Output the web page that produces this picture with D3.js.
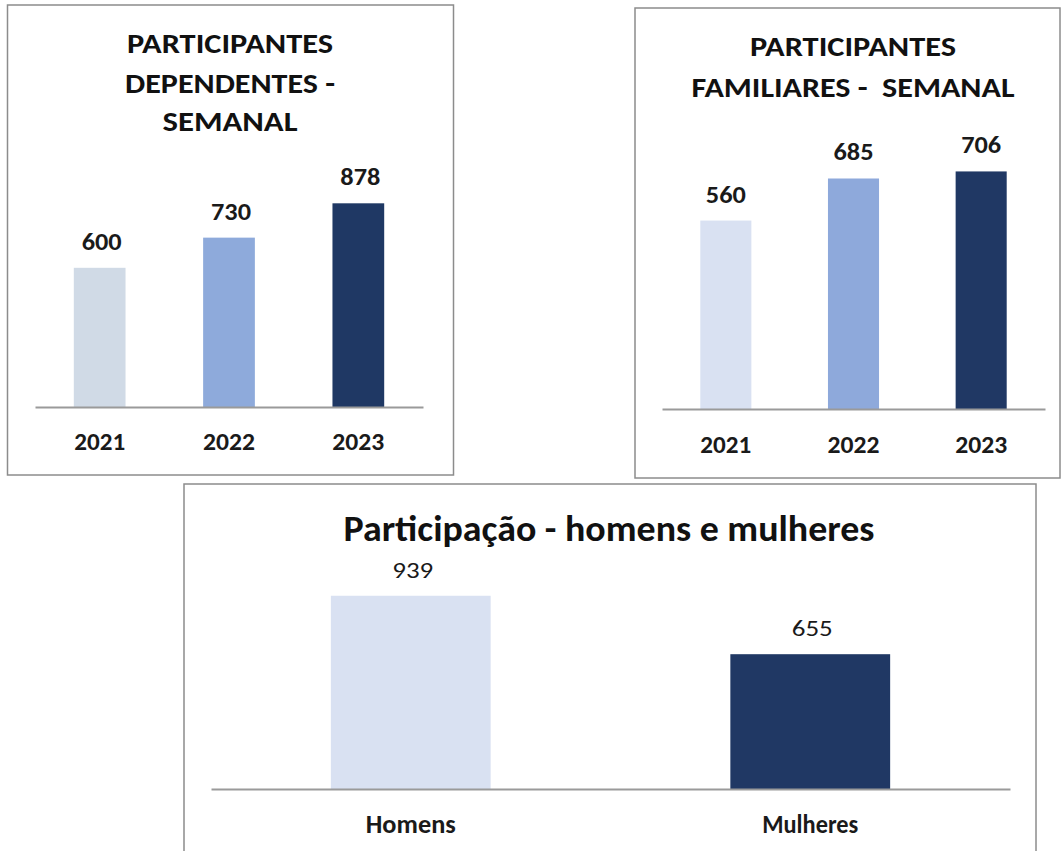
<!DOCTYPE html>
<html>
<head>
<meta charset="utf-8">
<script src="https://cdn.jsdelivr.net/npm/d3@7"></script>
<style>
  body { margin: 0; background: #fff; }
  svg { display: block; }
</style>
</head>
<body>
<div id="chart"></div>
<script>
// data
var dependentesYears = ["2021", "2022", "2023"];
var dependentesValues = [600, 730, 878];
var dependentesColors = ["#D0DAE6", "#8EAADB", "#1F3864"];

var familiaresYears = ["2021", "2022", "2023"];
var familiaresValues = [560, 685, 706];
var familiaresColors = ["#D9E1F2", "#8EA9DB", "#203864"];

var generoCats = ["Homens", "Mulheres"];
var generoValues = [939, 655];
var generoColors = ["#D9E1F2", "#203864"];

var width = 1063;
var height = 851;
var font = "Carlito, 'Open Sans', sans-serif";

var svg = d3.select("#chart").append("svg")
  .attr("width", width)
  .attr("height", height);

svg.append("rect")
  .attr("width", "100%")
  .attr("height", "100%")
  .attr("fill", "#ffffff");

function drawPanel(p) {
  var g = svg.append("g");

  // frame
  g.append("rect")
    .attr("x", p.box[0]).attr("y", p.box[1])
    .attr("width", p.box[2]).attr("height", p.box[3])
    .attr("fill", "#fff")
    .attr("stroke", "#8c8c8c")
    .attr("stroke-width", 1.5);

  var x = d3.scaleBand()
    .domain(p.cats)
    .range(p.xRange)
    .paddingInner(0.6)
    .paddingOuter(0.3);

  var y = d3.scaleLinear()
    .domain(p.yDomain)
    .range(p.yRange);

  // titles
  p.title.forEach(function (t) {
    g.append("text")
      .attr("x", p.titleX)
      .attr("y", t.y)
      .attr("text-anchor", "middle")
      .attr("font-family", font)
      .attr("font-weight", "bold")
      .attr("font-size", p.titleSize)
      .attr("textLength", t.w)
      .attr("lengthAdjust", "spacingAndGlyphs")
      .attr("fill", "#111")
      .style("white-space", "pre")
      .text(t.text);
  });

  // bars
  g.selectAll(".bar")
    .data(p.values)
    .enter().append("rect")
    .attr("x", function (d, i) { return x(p.cats[i]); })
    .attr("y", function (d) { return y(d); })
    .attr("width", x.bandwidth())
    .attr("height", function (d) { return y(0) - y(d); })
    .attr("fill", function (d, i) { return p.colors[i]; });

  // value labels
  g.selectAll(".val")
    .data(p.values)
    .enter().append("text")
    .attr("x", function (d, i) { return x(p.cats[i]) + x.bandwidth() / 2 + p.valDx; })
    .attr("y", function (d) { return y(d) - 18; })
    .attr("text-anchor", "middle")
    .attr("font-family", font)
    .attr("font-weight", p.valWeight)
    .attr("font-size", p.valSize)
    .attr("textLength", p.valW)
    .attr("lengthAdjust", "spacingAndGlyphs")
    .attr("fill", "#1a1a1a")
    .text(function (d) { return d; });

  // baseline axis
  var axis = g.append("g")
    .attr("transform", "translate(0," + y(0) + ")")
    .call(d3.axisBottom(x).tickSize(0).tickPadding(p.tickPad));
  axis.select(".domain")
    .attr("stroke", "#9a9a9a")
    .attr("stroke-width", 2);
  axis.selectAll(".tick text")
    .attr("font-family", font)
    .attr("font-weight", p.catWeight)
    .attr("font-size", p.catSize)
    .attr("fill", "#1a1a1a")
    .attr("dy", null)
    .attr("y", p.tickPad)
    .attr("textLength", function (d, i) { return p.catW[i]; })
    .attr("lengthAdjust", "spacingAndGlyphs");
}

drawPanel({
  box: [7.5, 5, 446, 470],
  cats: dependentesYears,
  values: dependentesValues,
  colors: dependentesColors,
  xRange: [35, 423],
  yDomain: [0, 1000],
  yRange: [407, 175],
  titleX: 230,
  titleSize: 29,
  title: [
    { text: "PARTICIPANTES", y: 53, w: 206 },
    { text: "DEPENDENTES -", y: 93, w: 210 },
    { text: "SEMANAL", y: 131, w: 135 }
  ],
  valSize: 24, valWeight: "bold", valW: 40, valDx: 2,
  catSize: 25, catWeight: "bold", catW: [51, 52, 52], tickPad: 43
});

drawPanel({
  box: [635, 8, 425, 470],
  cats: familiaresYears,
  values: familiaresValues,
  colors: familiaresColors,
  xRange: [662, 1045],
  yDomain: [0, 800],
  yRange: [409, 139.8],
  titleX: 853,
  titleSize: 29,
  title: [
    { text: "PARTICIPANTES", y: 56, w: 206 },
    { text: "FAMILIARES -  SEMANAL", y: 97, w: 323 }
  ],
  valSize: 24, valWeight: "bold", valW: 40, valDx: 0,
  catSize: 25, catWeight: "bold", catW: [51, 52, 52], tickPad: 44
});

drawPanel({
  box: [184, 484, 852, 380],
  cats: generoCats,
  values: generoValues,
  colors: generoColors,
  xRange: [211, 1010],
  yDomain: [0, 1000],
  yRange: [789, 583.2],
  titleX: 609,
  titleSize: 37,
  title: [
    { text: "Participação - homens e mulheres", y: 541, w: 531 }
  ],
  valSize: 23, valWeight: "normal", valW: 41, valDx: 2,
  catSize: 26, catWeight: "bold", catW: [90, 96], tickPad: 44
});
</script>
</body>
</html>
